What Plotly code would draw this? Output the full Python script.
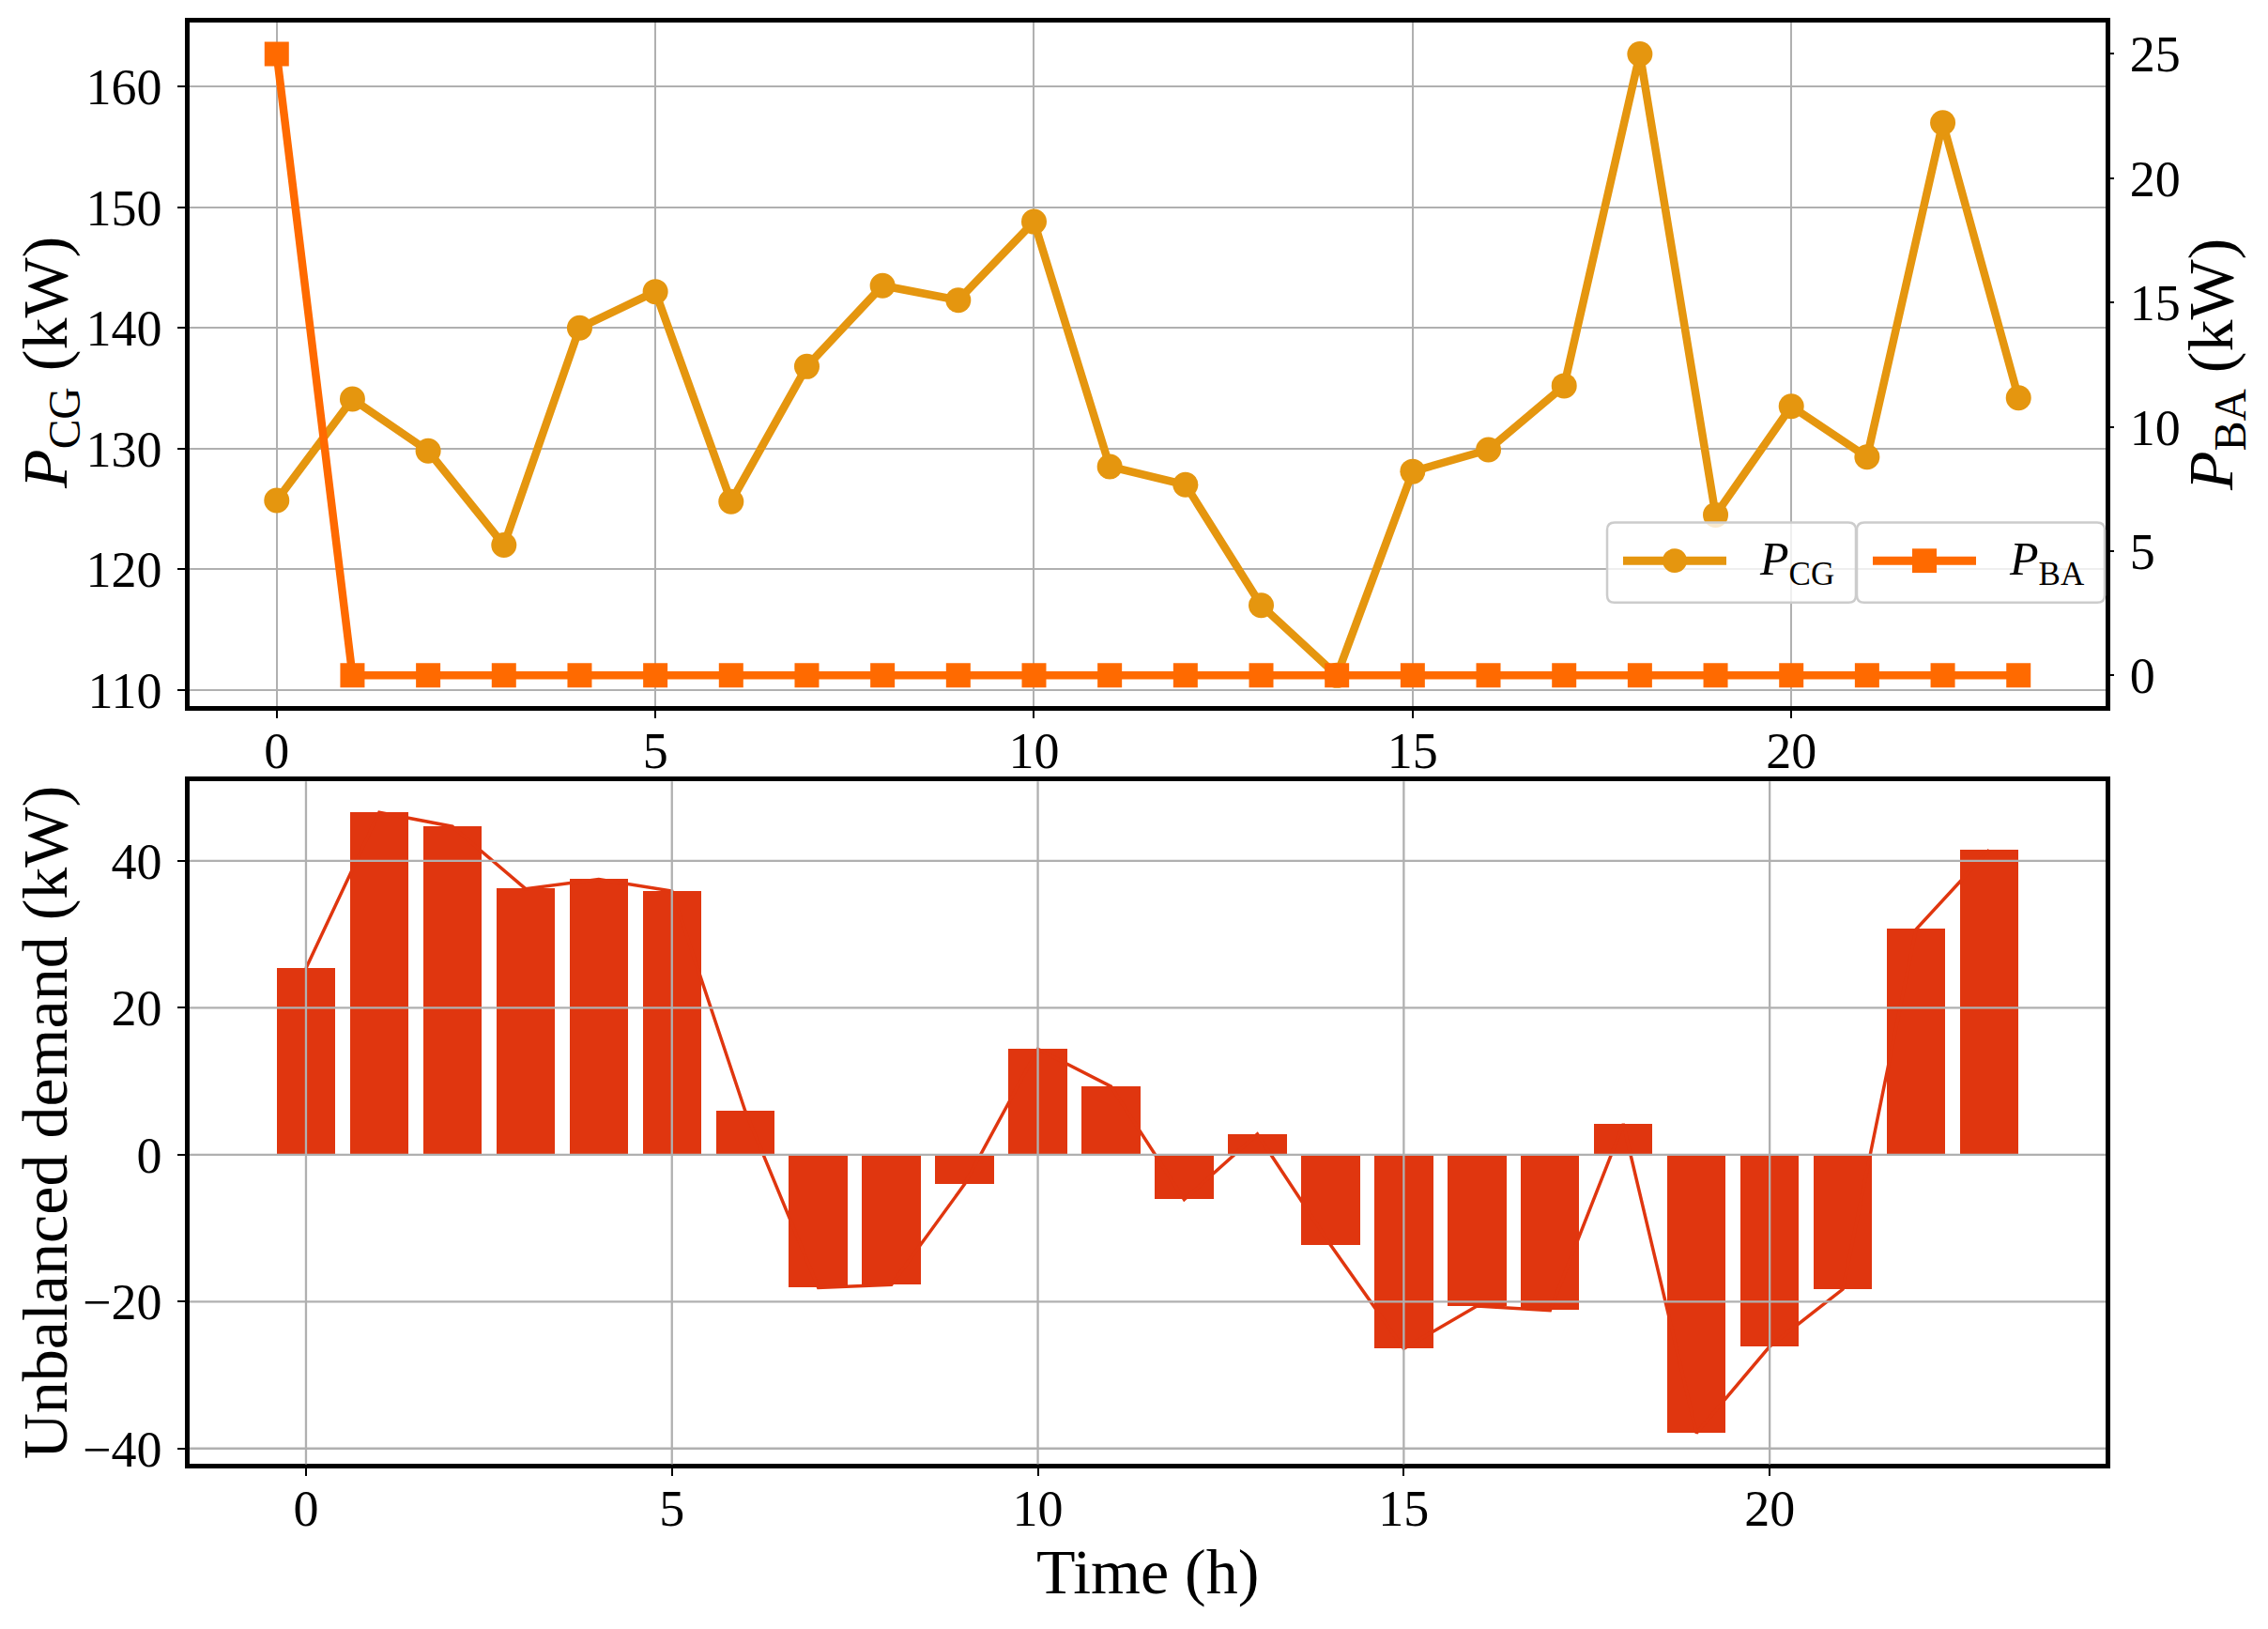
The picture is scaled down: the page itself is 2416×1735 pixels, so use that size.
import plotly.graph_objects as go

W, H = 2416, 1735
OFF_X, OFF_Y = 8, 4  # page offset of the plot div
FONT = 'Liberation Serif, Times New Roman, serif'

hours = list(range(24))
p_cg = [125.7, 134.1, 129.8, 122.0, 140.0, 143.0, 125.6, 136.8, 143.5, 142.3, 148.8, 128.5,
        127.0, 117.0, 111.2, 128.1, 129.9, 135.2, 162.7, 124.5, 133.5, 129.3, 157.0, 134.2]
p_ba = [25, 0, 0, 0, 0, 0, 0, 0, 0, 0, 0, 0,
        0, 0, 0, 0, 0, 0, 0, 0, 0, 0, 0, 0]
unbalanced = [25.4, 46.6, 44.7, 36.2, 37.5, 35.9, 6.0, -18.1, -17.7, -4.0, 14.4, 9.3,
              -6.1, 2.8, -12.3, -26.4, -20.6, -21.2, 4.2, -37.9, -26.1, -18.3, 30.7, 41.5]

x_ticks = [0, 5, 10, 15, 20]
cg_ticks = [110, 120, 130, 140, 150, 160]
ba_ticks = [0, 5, 10, 15, 20, 25]
ub_ticks = [-40, -20, 0, 20, 40]

C_CG = '#e5960f'
C_BA = '#ff6a00'
C_UB = '#e0360f'
GRID = '#b0b0b0'


def px(x):
    return (x - OFF_X) / W


def py(y):
    return 1 - (y - OFF_Y) / H


def pad(lo, hi, frac=0.05):
    # matplotlib-like autoscale margins
    d = (hi - lo) * frac
    return [lo - d, hi + d]


def rounded_box(x0, y0, x1, y1, r):
    return (f'M {px(x0 + r)},{py(y0)} L {px(x1 - r)},{py(y0)} '
            f'Q {px(x1)},{py(y0)} {px(x1)},{py(y0 + r)} L {px(x1)},{py(y1 - r)} '
            f'Q {px(x1)},{py(y1)} {px(x1 - r)},{py(y1)} L {px(x0 + r)},{py(y1)} '
            f'Q {px(x0)},{py(y1)} {px(x0)},{py(y1 - r)} L {px(x0)},{py(y0 + r)} '
            f'Q {px(x0)},{py(y0)} {px(x0 + r)},{py(y0)} Z')


fig = go.Figure()

fig.add_trace(go.Scatter(
    x=hours, y=p_cg, mode='lines+markers', name='P_CG',
    line=dict(color=C_CG, width=8.5),
    marker=dict(symbol='circle', size=27, color=C_CG),
    xaxis='x', yaxis='y'
))
fig.add_trace(go.Scatter(
    x=hours, y=p_ba, mode='lines+markers', name='P_BA',
    line=dict(color=C_BA, width=8.5),
    marker=dict(symbol='square', size=26, color=C_BA),
    xaxis='x', yaxis='y2'
))
fig.add_trace(go.Bar(
    x=hours, y=unbalanced, width=0.8, marker=dict(color=C_UB, line=dict(width=0)),
    xaxis='x2', yaxis='y3'
))
fig.add_trace(go.Scatter(
    x=hours, y=unbalanced, mode='lines', line=dict(color=C_UB, width=3.5),
    xaxis='x2', yaxis='y3'
))

tick_font = dict(family=FONT, size=54, color='black')
frame = dict(showline=True, linecolor='black', linewidth=4.5, mirror=True,
             ticks='outside', ticklen=8, tickwidth=2, tickcolor='black',
             tickfont=tick_font, zeroline=False)

x_dom = [px(202), px(2243)]
top_dom = [py(754.5), py(20.5)]
bot_dom = [py(1568), py(835)]

fig.update_layout(
    width=W, height=H,
    margin=dict(l=0, r=0, t=0, b=0),
    paper_bgcolor='white', plot_bgcolor='white',
    showlegend=False,
    bargap=0,
    font=dict(family=FONT, color='black'),
    xaxis=dict(domain=x_dom, anchor='y', range=pad(hours[0], hours[-1]),
               tickvals=x_ticks, showgrid=True, gridcolor=GRID, gridwidth=2.3,
               ticklabelstandoff=-12, **frame),
    yaxis=dict(domain=top_dom, anchor='x', range=pad(min(p_cg), max(p_cg)),
               tickvals=cg_ticks, showgrid=True, gridcolor=GRID, gridwidth=2.3,
               ticklabelstandoff=6, **frame),
    yaxis2=dict(overlaying='y', anchor='x', side='right', range=pad(min(p_ba), max(p_ba)),
                tickvals=ba_ticks, showgrid=False, showline=False,
                ticks='outside', ticklen=8, tickwidth=2, tickcolor='black',
                tickfont=tick_font, zeroline=False, ticklabelstandoff=6),
    xaxis2=dict(domain=x_dom, anchor='y3', range=pad(hours[0] - 0.4, hours[-1] + 0.4),
                tickvals=x_ticks, showgrid=False, ticklabelstandoff=-12, **frame),
    yaxis3=dict(domain=bot_dom, anchor='x2',
                range=pad(min(min(unbalanced), 0), max(max(unbalanced), 0)),
                tickvals=ub_ticks, showgrid=False, ticklabelstandoff=6, **frame),
)

shapes = []
# bottom panel grid sits over the bars, like matplotlib's default
for v in x_ticks:
    shapes.append(dict(type='line', xref='x2', yref='y3 domain', x0=v, x1=v, y0=0, y1=1,
                       line=dict(color=GRID, width=2.3), layer='above'))
for v in ub_ticks:
    shapes.append(dict(type='line', xref='x2 domain', yref='y3', x0=0, x1=1, y0=v, y1=v,
                       line=dict(color=GRID, width=2.3), layer='above'))

# legend boxes
ly = 598
for (bx0, bx1, color, symbol) in [(1712, 1977, C_CG, 'circle'), (1978, 2242, C_BA, 'square')]:
    shapes.append(dict(type='path', xref='paper', yref='paper',
                       path=rounded_box(bx0, 557, bx1, 643, 8),
                       fillcolor='rgba(255,255,255,0.8)', line=dict(color='#cccccc', width=2.5),
                       layer='above'))
    lx0 = bx0 + 17
    lx1 = bx0 + 127
    cx = (lx0 + lx1) / 2
    shapes.append(dict(type='line', xref='paper', yref='paper',
                       x0=px(lx0), x1=px(lx1), y0=py(ly), y1=py(ly),
                       line=dict(color=color, width=9), layer='above'))
    r = 13
    shapes.append(dict(type='circle' if symbol == 'circle' else 'rect',
                       xref='paper', yref='paper',
                       x0=px(cx - r), x1=px(cx + r), y0=py(ly + r), y1=py(ly - r),
                       fillcolor=color, line=dict(width=0), layer='above'))

fig.update_layout(shapes=shapes)

ann = [
    dict(text='<i>P</i><sub>CG</sub>', x=px(1872), y=py(600), xanchor='left', yanchor='middle',
         font=dict(size=50)),
    dict(text='<i>P</i><sub>BA</sub>', x=px(2138), y=py(600), xanchor='left', yanchor='middle',
         font=dict(size=50)),
    dict(text='<i>P</i><sub>CG</sub> (kW)', x=px(53), y=py(386), textangle=-90,
         xanchor='center', yanchor='middle', font=dict(size=68)),
    dict(text='<i>P</i><sub>BA</sub> (kW)', x=px(2360), y=py(388), textangle=-90,
         xanchor='center', yanchor='middle', font=dict(size=68)),
    dict(text='Unbalanced demand (kW)', x=px(48), y=py(1202), textangle=-90,
         xanchor='center', yanchor='middle', font=dict(size=68)),
    dict(text='Time (h)', x=px(1222), y=py(1684),
         xanchor='center', yanchor='middle', font=dict(size=68)),
]
for a in ann:
    a.update(xref='paper', yref='paper', showarrow=False)
    a['font'].update(family=FONT, color='black')
fig.update_layout(annotations=ann)

fig.write_html('out.html')
